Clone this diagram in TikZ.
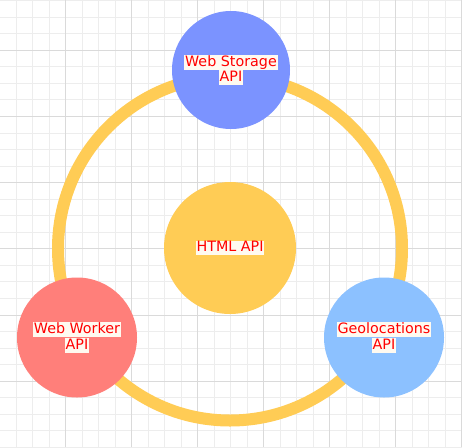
\documentclass[tikz,border=0pt]{standalone}
\usepackage{fontspec}
\setmainfont{DejaVu Sans}
\definecolor{ringc}{HTML}{FFCC55}
\definecolor{htmlc}{HTML}{FFCC55}
\definecolor{storc}{HTML}{7B93FF}
\definecolor{workc}{HTML}{FF7F7A}
\definecolor{geoc}{HTML}{8CC1FF}
\definecolor{lblbg}{HTML}{FFFAF0}
\definecolor{gridminor}{HTML}{EDEDED}
\definecolor{gridmajor}{HTML}{DADADA}
\newcommand{\lbl}[1]{{\setlength{\fboxsep}{0pt}\colorbox{lblbg}{\rule[-3.6pt]{0pt}{14.8pt}\hspace{0.8pt}#1\hspace{0.8pt}}}}
\tikzset{
  bubble/.style={circle, draw=none, inner sep=0pt, text=red, align=center,
    font=\fontsize{14.3}{15.6}\selectfont},
  minorline/.style={draw=gridminor, line width=1pt},
  majorline/.style={draw=gridmajor, line width=1pt},
  ringline/.style={draw=ringc, line width=12pt}
}
\begin{document}
\begin{tikzpicture}[x=1pt,y=-1pt]
\useasboundingbox (0,0) rectangle (462,447);
\fill[white] (0,0) rectangle (462,447);
% grid
\foreach \i in {0,...,27} \draw[minorline] ({16+16.5*\i},0) -- ({16+16.5*\i},447);
\foreach \i in {0,...,27} \draw[minorline] (0,{0.6+16.55*\i}) -- (462,{0.6+16.55*\i});
\foreach \i in {0,...,6} \draw[majorline] ({65.5+66*\i},0) -- ({65.5+66*\i},447);
\foreach \i in {0,...,5} \draw[majorline] (0,{50.25+66.2*\i}) -- (462,{50.25+66.2*\i});
% ring
\coordinate (ringc) at (230,248.5);
\draw[ringline] (ringc) circle[radius=172];
% nodes
\node[bubble, fill=htmlc, minimum size=132pt] (html) at (230,248) {\lbl{HTML API}};
\node[bubble, fill=storc, minimum size=118pt] (stor) at (231,70) {\lbl{Web Storage}\\\lbl{API}};
\node[bubble, fill=workc, minimum size=120pt] (work) at (77,337.5) {\lbl{Web Worker}\\\lbl{API}};
\node[bubble, fill=geoc, minimum size=120pt] (geo) at (384,337.5) {\lbl{Geolocations}\\\lbl{API}};
\end{tikzpicture}
\end{document}
